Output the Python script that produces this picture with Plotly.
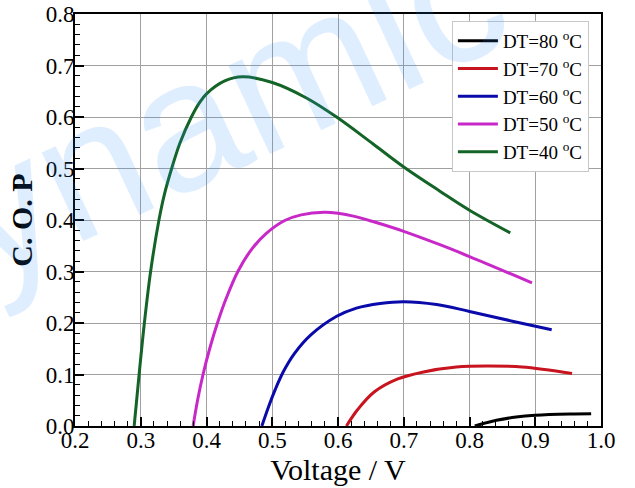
import plotly.graph_objects as go

# ---- data ----
v_40 = [0.290, 0.2975, 0.3055, 0.315, 0.3277, 0.3358, 0.347, 0.3595, 0.377, 0.3894, 0.400, 0.4277,
        0.455, 0.500, 0.552, 0.600, 0.653, 0.700, 0.755, 0.800, 0.862]
cop_40 = [0.000, 0.100, 0.200, 0.300, 0.400, 0.449, 0.500, 0.549, 0.600, 0.628, 0.645, 0.670,
          0.678, 0.667, 0.637, 0.598, 0.548, 0.503, 0.456, 0.419, 0.375]

v_50 = [0.3797, 0.3864, 0.3949, 0.405, 0.4174, 0.430, 0.4477, 0.468, 0.491, 0.519, 0.544, 0.579,
        0.600, 0.625, 0.653, 0.700, 0.755, 0.800, 0.895]
cop_50 = [0.000, 0.050, 0.101, 0.151, 0.203, 0.248, 0.300, 0.342, 0.374, 0.399, 0.410, 0.415,
          0.413, 0.407, 0.397, 0.378, 0.352, 0.329, 0.278]

v_60 = [0.4842, 0.494, 0.5045, 0.517, 0.5334, 0.5587, 0.598, 0.628, 0.664, 0.700, 0.750, 0.800, 0.867, 0.925]
cop_60 = [0.000, 0.036, 0.0707, 0.1057, 0.1401, 0.1768, 0.213, 0.229, 0.238, 0.2415, 0.236, 0.2225, 0.203, 0.187]

v_70 = [0.6128, 0.630, 0.655, 0.690, 0.730, 0.780, 0.8265, 0.880, 0.956]
cop_70 = [0.000, 0.032, 0.066, 0.091, 0.105, 0.1145, 0.1165, 0.1145, 0.102]

v_80 = [0.808, 0.841, 0.871, 0.900, 0.953, 0.985]
cop_80 = [0.000, 0.011, 0.0175, 0.021, 0.0235, 0.024]

series_names = ["DT=80 <sup>o</sup>C", "DT=70 <sup>o</sup>C", "DT=60 <sup>o</sup>C",
                "DT=50 <sup>o</sup>C", "DT=40 <sup>o</sup>C"]
series_colors = ["#000000", "#c8141e", "#0a0aaa", "#c828c8", "#146428"]
series_x = [v_80, v_70, v_60, v_50, v_40]
series_y = [cop_80, cop_70, cop_60, cop_50, cop_40]

x_ticks = [0.2, 0.3, 0.4, 0.5, 0.6, 0.7, 0.8, 0.9, 1.0]
y_ticks = [0.0, 0.1, 0.2, 0.3, 0.4, 0.5, 0.6, 0.7, 0.8]

SERIF = "Liberation Serif, Times New Roman, serif"

fig = go.Figure()
for name, col, xs, ys in zip(series_names, series_colors, series_x, series_y):
    fig.add_trace(go.Scatter(x=xs, y=ys, mode="lines", name=name,
                             line=dict(color=col, width=3, shape="spline", smoothing=1.0)))

axis_common = dict(
    showgrid=True, gridcolor="#a0a0a0", gridwidth=1,
    showline=True, linecolor="black", linewidth=2, mirror=True,
    ticks="inside", ticklen=9, tickwidth=1.5, tickcolor="black",
    minor=dict(ticks="inside", ticklen=5, tickwidth=1.2, tickcolor="black", dtick=0.02, showgrid=False),
    tickfont=dict(family=SERIF, size=23, color="black"),
    zeroline=False, automargin=False, ticklabeloverflow="allow",
)

fig.update_xaxes(range=[0.2, 1.0], tickvals=x_ticks, ticktext=[f"{t:.1f}" for t in x_ticks],
                 ticklabelstandoff=-8,
                 title=dict(text="Voltage / V", font=dict(family=SERIF, size=30, color="black"), standoff=0),
                 **axis_common)
fig.update_yaxes(range=[0.0, 0.8], tickvals=y_ticks, ticktext=[f"{t:.1f}" for t in y_ticks],
                 ticklabelstandoff=-6,
                 title=dict(text="<b>C. O. P</b>", font=dict(family=SERIF, size=30, color="black"), standoff=4),
                 **axis_common)

fig.update_layout(
    width=635, height=488,
    margin=dict(l=75, r=34, t=14, b=62),
    plot_bgcolor="white", paper_bgcolor="white",
    showlegend=True,
    legend=dict(x=0.977, y=0.983, xanchor="right", yanchor="top",
                bgcolor="white", bordercolor="#c8c8c8", borderwidth=1,
                font=dict(family=SERIF, size=19, color="black"),
                tracegroupgap=0, itemwidth=40),
)

# faint watermark seen in the reference
fig.add_annotation(text="Dynamic", xref="paper", yref="paper", x=0.173, y=0.714,
                   xanchor="center", yanchor="middle",
                   showarrow=False, textangle=-25,
                   font=dict(family="Liberation Sans, Arial, sans-serif", size=185,
                             color="rgba(40,140,255,0.15)"))

# remove the page's default 8px body margin so the 635x488 figure fills the window
fig.write_html("out.html", config={"displayModeBar": False},
               post_script="document.body.style.margin='0px';")
